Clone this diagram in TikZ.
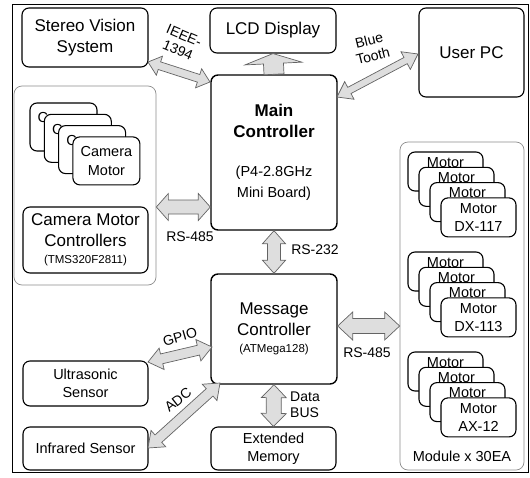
\documentclass[tikz,border=0pt]{standalone}
\usepackage{fontspec}
\setmainfont{Liberation Sans}
\usetikzlibrary{calc}
\newcommand\fsA{\fontsize{17}{20.5}\selectfont}
\newcommand\fsB{\fontsize{14.5}{18.5}\selectfont}
\newcommand\fsC{\fontsize{11.5}{14}\selectfont}
\newcommand\fsL{\fontsize{14}{16}\selectfont}
% double-headed block arrow: A, B, shaft half width, head half width, head length
\newcommand\dblarrow[5]{%
  \filldraw[blkarrow] (#1)
  -- ($(#1)!#5!(#2)!#4!90:(#2)$) -- ($(#1)!#5!(#2)!#3!90:(#2)$)
  -- ($(#2)!#5!(#1)!#3!-90:(#1)$) -- ($(#2)!#5!(#1)!#4!-90:(#1)$)
  -- (#2)
  -- ($(#2)!#5!(#1)!#4!90:(#1)$) -- ($(#2)!#5!(#1)!#3!90:(#1)$)
  -- ($(#1)!#5!(#2)!#3!-90:(#2)$) -- ($(#1)!#5!(#2)!#4!-90:(#2)$)
  -- cycle;}
% single-headed block arrow from A to B
\newcommand\sglarrow[5]{%
  \filldraw[blkarrow] ($(#1)!#3!90:(#2)$)
  -- ($(#2)!#5!(#1)!#3!-90:(#1)$) -- ($(#2)!#5!(#1)!#4!-90:(#1)$)
  -- (#2)
  -- ($(#2)!#5!(#1)!#4!90:(#1)$) -- ($(#2)!#5!(#1)!#3!90:(#1)$)
  -- ($(#1)!#3!-90:(#2)$) -- cycle;}
\definecolor{arrfill}{RGB}{222,222,222}
\definecolor{arrline}{RGB}{100,100,100}
\definecolor{grpline}{RGB}{140,140,140}
\tikzset{
  box/.style={draw=black, line width=1.1pt, rounded corners=7pt, fill=white,
    inner sep=0pt, align=center},
  grp/.style={draw=grpline, line width=0.7pt, rounded corners=8pt, inner sep=0pt},
  blkarrow/.style={fill=arrfill, draw=arrline, line width=0.7pt, line join=miter},
  lbl/.style={inner sep=0pt, font=\fsL, align=center},
  cambox/.style={box, minimum width=67pt, minimum height=48pt, font=\fsB},
  motbox/.style={box, minimum width=75pt, minimum height=39pt, font=\fsB}
}
\begin{document}
\begin{tikzpicture}[x=1pt,y=-1pt]
\useasboundingbox (0,0) rectangle (530,477);
\draw[line width=1pt] (12,4) rectangle (528,472);

% groups
\node[grp, minimum width=142pt, minimum height=199pt] (camgrp) at (85,185.5) {};
\node[grp, minimum width=124pt, minimum height=328pt] (modgrp) at (462,306) {};

% main boxes
\node[box, minimum width=126pt, minimum height=59pt, font=\fsA] (stereo) at (85,37.5) {Stereo Vision\\System};
\node[box, minimum width=126pt, minimum height=45pt, font=\fsA] (lcd) at (273,30.5) {LCD Display};
\node[box, minimum width=105pt, minimum height=89pt, font=\fsA] (pc) at (471.5,52.5) {User PC};
\node[box, line width=1.4pt, minimum width=126pt, minimum height=155pt, font=\fsA] (main) at (274,152.5)
  {\fsA\bfseries Main\\ \fsA\bfseries Controller\\[19pt] \fsB (P4-2.8GHz\\ \fsB Mini Board)};
\node[box, line width=1.4pt, minimum width=126pt, minimum height=110pt, font=\fsA] (msg) at (274,329)
  {\fsA Message\\ \fsA Controller\\[-3pt] \fsC (ATMega128)};
\node[box, minimum width=125pt, minimum height=43pt, font=\fsB] (mem) at (273.5,448.5) {Extended\\Memory};
\node[box, minimum width=125pt, minimum height=66pt, font=\fsA] (cmc) at (85.5,240)
  {\fsA Camera Motor\\ \fsA Controllers\\[-3pt] \fsC (TMS320F2811)};
\node[box, minimum width=125pt, minimum height=45pt, font=\fsB] (ultra) at (85.5,383.5) {Ultrasonic\\Sensor};
\node[box, minimum width=125pt, minimum height=43pt, font=\fsB] (infra) at (85.5,448.5) {Infrared Sensor};

% camera motor stack (the back cards show only their first line)
\foreach \i in {0,...,2}
  \node[cambox] (cam\i) at ({63.5+14.3*\i},{127+11.3*\i}) {Camera\\\phantom{Motor}};
\node[cambox] (cam3) at ({63.5+14.3*3},{127+11.3*3}) {Camera\\Motor};

% motor stacks
\foreach \k/\lab in {0/DX-117,1/DX-113,2/AX-12}{
  \foreach \i in {0,...,2}
    \node[motbox] (mot\k\i) at ({445.5+11*\i},{171.5+100*\k+15.3*\i}) {Motor\\\phantom{\lab}};
  \node[motbox] (mot\k3) at ({445.5+11*3},{171.5+100*\k+15.3*3}) {Motor\\\lab};
}

\node[lbl, font=\fsB] (modlbl) at (462,456) {Module x 30EA};

% connector end points
\coordinate (ieeeA) at (148,62);
\coordinate (ieeeB) at (210,82);
\coordinate (btA) at (418,54);
\coordinate (btB) at (337,97);
\coordinate (lcdA) at (main.north);
\coordinate (lcdB) at (lcd.south);
\coordinate (rslA) at (camgrp.east |- 0,207);
\coordinate (rslB) at (main.west |- 0,207);
\coordinate (rs232A) at (main.south);
\coordinate (rs232B) at (msg.north);
\coordinate (rsrA) at (msg.east |- 0,326);
\coordinate (rsrB) at (modgrp.west |- 0,326);
\coordinate (gpioA) at (148,362);
\coordinate (gpioB) at (212,347);
\coordinate (adcA) at (148,448);
\coordinate (adcB) at (220,383);
\coordinate (dataA) at (msg.south);
\coordinate (dataB) at (mem.north);

% connectors
\dblarrow{ieeeA}{ieeeB}{4pt}{10pt}{12pt}
\dblarrow{btA}{btB}{3.5pt}{10pt}{14pt}
\sglarrow{lcdA}{lcdB}{10pt}{28.5pt}{10pt}
\dblarrow{rslA}{rslB}{7pt}{13.5pt}{12pt}
\dblarrow{rs232A}{rs232B}{6.5pt}{11.5pt}{13pt}
\dblarrow{rsrA}{rsrB}{7.5pt}{14pt}{15pt}
\dblarrow{gpioA}{gpioB}{5pt}{11pt}{14pt}
\dblarrow{adcA}{adcB}{5pt}{11pt}{14pt}
\dblarrow{dataA}{dataB}{7.5pt}{12.5pt}{13pt}

% labels
\node[lbl, rotate=-23] (ieeelbl) at (181,43) {IEEE-\\1394};
\node[lbl, rotate=14] (btlbl) at (371,48) {Blue\\Tooth};
\node[lbl] (rsllbl) at (190,237) {RS-485};
\node[lbl] (rs232lbl) at (315,250) {RS-232};
\node[lbl] (rsrlbl) at (367,353) {RS-485};
\node[lbl, rotate=16] (gpiolbl) at (180,337) {GPIO};
\node[lbl, rotate=38] (adclbl) at (178,400) {ADC};
\node[lbl, align=left] (datalbl) at (305,405) {Data\\BUS};
\end{tikzpicture}
\end{document}
